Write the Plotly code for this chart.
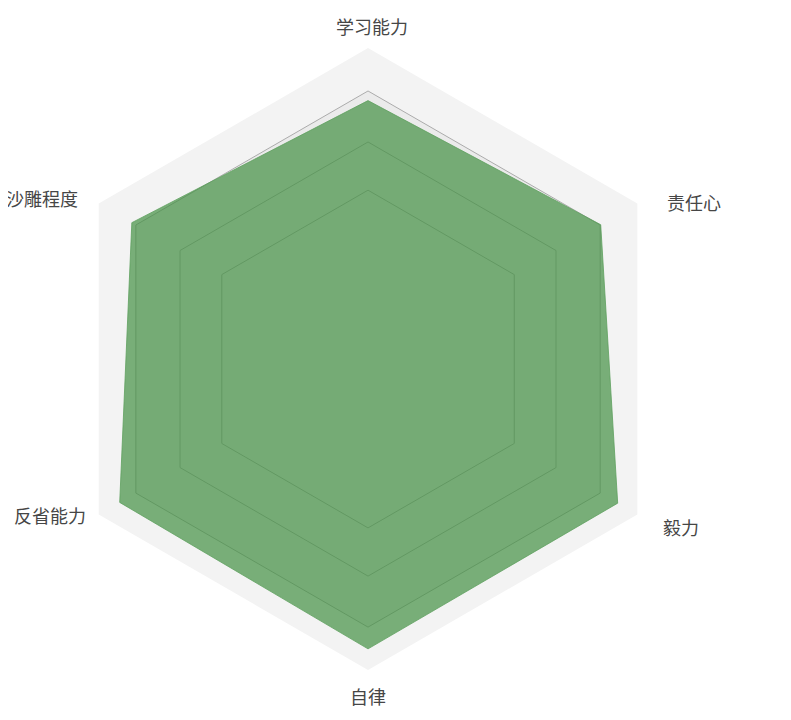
import plotly.graph_objects as go

# eixos do radar (sentido horário, começando no topo)
categorias = ['学习能力', '责任心', '毅力', '自律', '反省能力', '沙雕程度']
valores = [83.1, 86.4, 92.7, 93.2, 92.2, 87.7]

# anéis da grade (escala 0-100)
aneis = [54.3, 69.8, 86.2]
anel_faixa = 86.2  # faixa cinza um pouco mais escura por dentro deste anel

# posição dos nomes dos eixos (fração da página)
pos_nomes = [(0.4605, 0.9750), (0.8673, 0.7306), (0.8508, 0.2785),
             (0.4551, 0.0451), (0.0525, 0.2965), (0.0430, 0.7368)]

fechado = categorias + categorias[:1]

fig = go.Figure()

# faixa interna cinza
fig.add_trace(go.Scatterpolar(
    r=[anel_faixa] * len(fechado), theta=fechado,
    mode='lines', fill='toself', fillcolor='#ebebeb',
    line=dict(width=0), hoverinfo='skip', showlegend=False
))

# linhas dos anéis
for a in aneis:
    fig.add_trace(go.Scatterpolar(
        r=[a] * len(fechado), theta=fechado,
        mode='lines', line=dict(color='#ababab', width=1),
        hoverinfo='skip', showlegend=False
    ))

# área dos dados
fig.add_trace(go.Scatterpolar(
    r=valores + valores[:1], theta=fechado,
    mode='lines', fill='toself', fillcolor='rgba(67,144,67,0.7)',
    line=dict(color='rgba(95,160,95,0.8)', width=1),
    showlegend=False
))

# nomes dos eixos
for nome, (px, py) in zip(categorias, pos_nomes):
    fig.add_annotation(
        text=nome, x=px, y=py, xref='paper', yref='paper',
        xanchor='center', yanchor='middle', showarrow=False,
        font=dict(size=18, color='#464646')
    )

fig.update_layout(
    width=791, height=720,
    margin=dict(l=0, r=0, t=0, b=0),
    paper_bgcolor='white',
    font=dict(family='Noto Sans CJK SC', size=18, color='#464646'),
    polar=dict(
        domain=dict(x=[0.0620, 0.8483], y=[0.0805, 0.9444]),
        gridshape='linear',
        bgcolor='#f3f3f3',
        radialaxis=dict(visible=False, range=[0, 100]),
        angularaxis=dict(
            type='category', categoryarray=categorias,
            direction='clockwise', rotation=90,
            showgrid=False, showline=False, showticklabels=False,
            ticks=''
        )
    )
)

fig.write_html("out.html")
